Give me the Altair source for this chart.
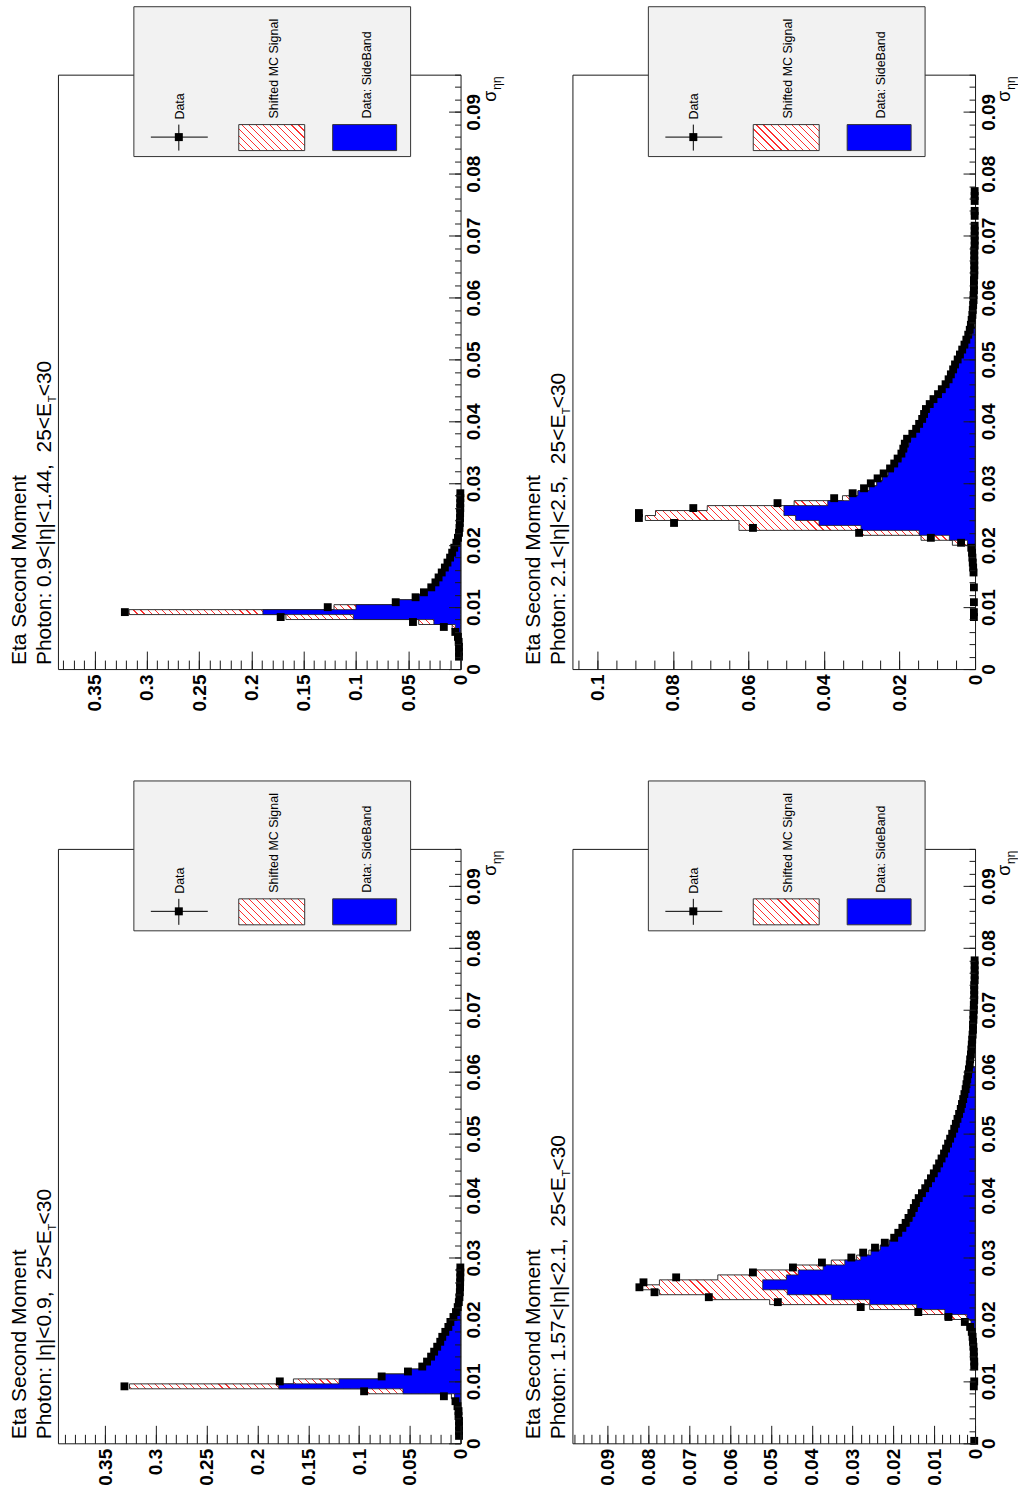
import math
import altair as alt
import pandas as pd

# ---------------------------------------------------------------- constants
BIN_WIDTH = 0.0008          # sigma_etaeta bin width
SIGMA_MAX = 0.096           # upper end of the sigma_etaeta axis
PANEL_W, PANEL_H = 403, 595
FONT = "Liberation Sans"
NB = "\u00a0"
EPS = 1e-9

SIGMA_MAJOR = [round(0.01 * i, 3) for i in range(10)]
SIGMA_MINOR = [round(0.002 * i, 4) for i in range(49)]

# ---------------------------------------------------------------- panel A : 0.9<|eta|<1.44
A_REGION = "Photon: 0.9<|η|<1.44," + NB + " 25<E"
A_VMAX = 0.385
A_MAJOR = [0, 0.05, 0.1, 0.15, 0.2, 0.25, 0.3, 0.35]
A_MINOR_STEP, A_MINOR_N = 0.01, 39
A_DATA_FIRST = 2
A_DATA = [0.0015, 0.0015, 0.0015, 0.0018, 0.0025, 0.005, 0.016, 0.0455, 0.172, 0.321,
          0.127, 0.062, 0.043, 0.035, 0.028, 0.024, 0.021, 0.018, 0.015, 0.0125,
          0.010, 0.008, 0.006, 0.004, 0.0025, 0.0015, 0.001, 0.0007, 0.0005, 0.0004,
          0.0003, 0.0003, 0.0002, 0.0002]
A_SB_FIRST = 7
A_SIDEBAND = [0.004, 0.005, 0.0255, 0.1025, 0.189, 0.100, 0.060, 0.041, 0.033, 0.027,
              0.023, 0.020, 0.017, 0.014, 0.0115, 0.009, 0.007, 0.005, 0.0035, 0.002, 0.001]
A_SIGNAL = [0.001, 0.003, 0.0145, 0.0645, 0.128, 0.021, 0.0025, 0.001]
A_SUB_Y = 328

# ---------------------------------------------------------------- panel B : 2.1<|eta|<2.5
B_REGION = "Photon: 2.1<|η|<2.5," + NB + " 25<E"
B_VMAX = 0.1066
B_MAJOR = [0, 0.02, 0.04, 0.06, 0.08, 0.1]
B_MINOR_STEP, B_MINOR_N = 0.005, 22
B_DATA_FIRST = 10
B_DATA = [0.0003, 0.0003, None, 0.0003, None, None, 0.0003, None, None, 0.0004,
          0.0005, 0.0006, 0.0007, 0.0008, 0.001, 0.0037, 0.0117, 0.0307, 0.0588, 0.0797,
          0.089, 0.089, 0.0746, 0.0523, 0.0373, 0.0324, 0.0294, 0.0276, 0.0258, 0.0242,
          0.0225, 0.0214, 0.0205, 0.0195, 0.019, 0.0186, 0.018, 0.0166, 0.0156, 0.0148,
          0.014, 0.0135, 0.013, 0.012, 0.011, 0.0098, 0.0088, 0.0078, 0.007, 0.0064,
          0.0058, 0.0053, 0.0046, 0.004, 0.0034, 0.0028, 0.0023, 0.0018, 0.0014, 0.0011,
          0.0009, 0.0007, 0.0006, 0.0005, 0.0004, 0.0004, 0.0003, 0.0003, 0.0003, 0.0002,
          0.0002, 0.0002, 0.0002, 0.0002, 0.0002, 0.0001, 0.0001, 0.0001, 0.0001, 0.0001,
          None, 0.0001, 0.0001, None, 0.0001, 0.0001, 0.0001]
B_SB_FIRST = 24
B_SIDEBAND = [0.0005, 0.002, 0.0068, 0.0148, 0.0302, 0.0413, 0.0475, 0.0506, 0.0506, 0.039,
              0.0333, 0.031, 0.028, 0.026, 0.0245, 0.023, 0.0215, 0.0205, 0.0195, 0.0187,
              0.018, 0.0175, 0.017, 0.016, 0.015, 0.014, 0.0133, 0.0127, 0.012, 0.0112,
              0.0103, 0.0093, 0.0083, 0.0074, 0.0066, 0.006, 0.0054, 0.0048, 0.0042, 0.0036,
              0.003, 0.0024, 0.0019, 0.0015, 0.001]
B_SIGNAL = [0.0003, 0.004, 0.0075, 0.0154, 0.0323, 0.0212, 0.0398, 0.034, 0.0203, 0.0089, 0.0018]
B_SUB_Y = 340

# ---------------------------------------------------------------- panel C : |eta|<0.9
C_REGION = "Photon: |η|<0.9," + NB + " 25<E"
C_VMAX = 0.3965
C_MAJOR = [0, 0.05, 0.1, 0.15, 0.2, 0.25, 0.3, 0.35]
C_MINOR_STEP, C_MINOR_N = 0.01, 40
C_DATA_FIRST = 1
C_DATA = [0.0015, 0.0015, 0.0015, 0.0015, 0.002, 0.002, 0.003, 0.005, 0.0164, 0.095,
          0.331, 0.178, 0.0777, 0.0518, 0.0377, 0.033, 0.029, 0.026, 0.023, 0.020,
          0.018, 0.015, 0.012, 0.010, 0.007, 0.0045, 0.0028, 0.0017, 0.0011, 0.0007,
          0.0005, 0.0004, 0.0003, 0.0002, 0.0002]
C_SB_FIRST = 7
C_SIDEBAND = [0.002, 0.003, 0.006, 0.0567, 0.179, 0.1196, 0.076, 0.050, 0.036, 0.031,
              0.027, 0.024, 0.021, 0.018, 0.016, 0.013, 0.011, 0.008, 0.005, 0.003, 0.0015]
C_SIGNAL = [0.001, 0.002, 0.003, 0.035, 0.147, 0.045, 0.002, 0.001]
C_SUB_Y = 382

# ---------------------------------------------------------------- panel D : 1.57<|eta|<2.1
D_REGION = "Photon: 1.57<|η|<2.1," + NB + " 25<E"
D_VMAX = 0.0986
D_MAJOR = [0, 0.01, 0.02, 0.03, 0.04, 0.05, 0.06, 0.07, 0.08, 0.09]
D_MINOR_STEP, D_MINOR_N = 0.002, 50
D_DATA_FIRST = 0
D_DATA = [0.0002, None, None, None, None, None, None, None, None, None,
          None, 0.0003, 0.0002, None, None, 0.0002, 0.0002, 0.0003, 0.0003, 0.0004,
          0.0005, 0.0006, 0.0008, 0.0012, 0.0025, 0.0065, 0.0139, 0.028, 0.0483, 0.0652,
          0.0785, 0.0822, 0.0812, 0.0732, 0.0544, 0.0446, 0.0375, 0.0303, 0.0274, 0.0245,
          0.0221, 0.0198, 0.0188, 0.0178, 0.017, 0.0163, 0.0156, 0.015, 0.0145, 0.0138,
          0.013, 0.0122, 0.0115, 0.0108, 0.0101, 0.0094, 0.0088, 0.0082, 0.0076, 0.0071,
          0.0066, 0.0061, 0.0056, 0.0051, 0.0047, 0.0043, 0.0039, 0.0035, 0.0032, 0.0029,
          0.0026, 0.0023, 0.0021, 0.0019, 0.0017, 0.0015, 0.0013, 0.0012, 0.001, 0.0009,
          0.0008, 0.0007, 0.0006, 0.0005, 0.0005, 0.0004, 0.0004, 0.0003, 0.0003, 0.0002,
          0.0002, 0.0002, 0.0002, 0.0001, 0.0001, 0.0001, 0.0001, 0.0001]
D_SB_FIRST = 23
D_SIDEBAND = [0.0005, 0.001, 0.002, 0.0074, 0.0143, 0.0258, 0.0352, 0.046, 0.052, 0.052,
              0.0462, 0.0433, 0.0372, 0.0319, 0.028, 0.0255, 0.0232, 0.021, 0.019, 0.018,
              0.017, 0.016, 0.0153, 0.0147, 0.0141, 0.0136, 0.013, 0.0122, 0.0115, 0.0108,
              0.0101, 0.0094, 0.0088, 0.0082, 0.0076, 0.0071, 0.0066, 0.0061, 0.0056, 0.0051,
              0.0047, 0.0043, 0.0039, 0.0035, 0.0031, 0.0028, 0.0025, 0.0022, 0.0019, 0.0016,
              0.0013, 0.001, 0.0007]
D_SIGNAL = [0.0005, 0.002, 0.0054, 0.0069, 0.0115, 0.0245, 0.0302, 0.0313, 0.0302, 0.0253,
            0.0168, 0.0107, 0.0078, 0.0033, 0.001, 0.0005]
D_SUB_Y = 328

PANELS = [
    dict(region=A_REGION, vmax=A_VMAX, major=A_MAJOR, mstep=A_MINOR_STEP, mn=A_MINOR_N,
         dfirst=A_DATA_FIRST, data=A_DATA, sbfirst=A_SB_FIRST, sb=A_SIDEBAND, sig=A_SIGNAL,
         suby=A_SUB_Y, anchor=True),
    dict(region=B_REGION, vmax=B_VMAX, major=B_MAJOR, mstep=B_MINOR_STEP, mn=B_MINOR_N,
         dfirst=B_DATA_FIRST, data=B_DATA, sbfirst=B_SB_FIRST, sb=B_SIDEBAND, sig=B_SIGNAL,
         suby=B_SUB_Y, anchor=False),
    dict(region=C_REGION, vmax=C_VMAX, major=C_MAJOR, mstep=C_MINOR_STEP, mn=C_MINOR_N,
         dfirst=C_DATA_FIRST, data=C_DATA, sbfirst=C_SB_FIRST, sb=C_SIDEBAND, sig=C_SIGNAL,
         suby=C_SUB_Y, anchor=False),
    dict(region=D_REGION, vmax=D_VMAX, major=D_MAJOR, mstep=D_MINOR_STEP, mn=D_MINOR_N,
         dfirst=D_DATA_FIRST, data=D_DATA, sbfirst=D_SB_FIRST, sb=D_SIDEBAND, sig=D_SIGNAL,
         suby=D_SUB_Y, anchor=False),
]

ONE = pd.DataFrame({"a": [0]})
HATCH_RED = "#ff3030"


def steps(first_bin, values):
    """histogram outline: each bin contributes its two edges (strictly increasing)"""
    s, v = [], []
    for j, val in enumerate(values):
        k = first_bin + j
        s += [k * BIN_WIDTH + EPS, (k + 1) * BIN_WIDTH - EPS]
        v += [val, val]
    return pd.DataFrame({"s": s, "v": v})


def points(first_bin, values):
    rows = [(round((first_bin + j + 0.5) * BIN_WIDTH, 6), val)
            for j, val in enumerate(values) if val is not None]
    return pd.DataFrame(rows, columns=["s", "v"])


def hatch(w, h, spacing=5.0, lw=0.8):
    """diagonal red hatching expressed as a hard-stop linear gradient"""
    L = (w + h) / math.sqrt(2)
    sc = (w + h) / (w * w + h * h)
    stops = []
    n = int(L / spacing) + 1
    for i in range(n):
        o1 = i * spacing / L
        o2 = min(1.0, (i * spacing + lw) / L)
        if o1 > 1:
            break
        stops += [{"offset": o1, "color": "white"}, {"offset": o1, "color": HATCH_RED},
                  {"offset": o2, "color": HATCH_RED}, {"offset": o2, "color": "white"}]
    return {"gradient": "linear", "x1": 0, "y1": 1, "x2": sc * w, "y2": 1 - sc * h, "stops": stops}


def txt(text, x, y, size, **kw):
    return alt.Chart(ONE).mark_text(text=text, angle=270, align="left", baseline="alphabetic",
                                    font=FONT, fontSize=size, color="black", **kw).encode(
        x=alt.value(x), y=alt.value(y))


def panel(p):
    vmax = p["vmax"]
    xs = alt.Scale(domain=[0, vmax], reverse=True, nice=False, zero=False)
    ys = alt.Scale(domain=[0, SIGMA_MAX], nice=False, zero=False)
    minor = [round(p["mstep"] * i, 4) for i in range(p["mn"])]

    ax_v_lab = alt.Axis(orient="bottom", values=p["major"], format="~g", labelAngle=270,
                        labelAlign="right", labelBaseline="middle", labelPadding=5,
                        ticks=False, tickSize=0, domain=False, grid=False, title=None,
                        labelFlush=False, labelOverlap=False)
    ax_v_maj = alt.Axis(orient="top", offset=-PANEL_H, values=p["major"], labels=False,
                        tickSize=18, domain=False, grid=False, title=None, zindex=1)
    ax_v_min = alt.Axis(orient="top", offset=-PANEL_H, values=minor, labels=False,
                        tickSize=9, domain=False, grid=False, title=None, zindex=1)
    ax_s_lab = alt.Axis(orient="right", values=SIGMA_MAJOR, format="~g", labelAngle=270,
                        labelAlign="center", labelBaseline="top", labelPadding=4,
                        ticks=False, tickSize=0, domain=False, grid=False, title=None,
                        labelFlush=False, labelOverlap=False)
    ax_s_maj = alt.Axis(orient="left", offset=-PANEL_W, values=SIGMA_MAJOR, labels=False,
                        tickSize=12, domain=False, grid=False, title=None, zindex=1)
    ax_s_min = alt.Axis(orient="left", offset=-PANEL_W, values=SIGMA_MINOR, labels=False,
                        tickSize=6, domain=False, grid=False, title=None, zindex=1)

    sb, sig = p["sb"], p["sig"]
    total = [b + (sig[j] if j < len(sig) else 0.0) for j, b in enumerate(sb)]  # MC signal stacked on sideband
    red_df = steps(p["sbfirst"], total)
    blue_df = steps(p["sbfirst"], sb)
    w = max(total) / vmax * PANEL_W
    h = len(total) * BIN_WIDTH / SIGMA_MAX * PANEL_H

    red = alt.Chart(red_df).mark_area(orient="horizontal", fill=hatch(w, h), stroke="#333333",
                                      strokeWidth=1, opacity=1).encode(
        y=alt.Y("s:Q", scale=ys, axis=ax_s_lab),
        x=alt.X("v:Q", scale=xs, axis=ax_v_lab, stack=None),
        x2=alt.datum(0))
    blue = alt.Chart(blue_df).mark_area(orient="horizontal", fill="#0000ff", stroke="#222222",
                                        strokeWidth=0.8, opacity=1).encode(
        y=alt.Y("s:Q", scale=ys, axis=ax_s_maj),
        x=alt.X("v:Q", scale=xs, axis=ax_v_maj, stack=None),
        x2=alt.datum(0))
    pts = alt.Chart(points(p["dfirst"], p["data"])).mark_point(
        shape="square", filled=True, size=62, color="black", opacity=1).encode(
        y=alt.Y("s:Q", scale=ys, axis=ax_s_min),
        x=alt.X("v:Q", scale=xs, axis=ax_v_min))

    layers = [red, blue, pts]

    # legend (rotated TLegend)
    layers.append(alt.Chart(ONE).mark_rect(fill="#f2f2f2", stroke="#333333", strokeWidth=1).encode(
        x=alt.value(76), x2=alt.value(353), y=alt.value(-68), y2=alt.value(82)))
    layers.append(alt.Chart(ONE).mark_rule(color="black", strokeWidth=1).encode(
        x=alt.value(93), x2=alt.value(150), y=alt.value(62.5)))
    layers.append(alt.Chart(ONE).mark_rule(color="black", strokeWidth=1).encode(
        x=alt.value(121), y=alt.value(50), y2=alt.value(76)))
    layers.append(alt.Chart(ONE).mark_point(shape="square", filled=True, size=64, color="black",
                                            opacity=1).encode(x=alt.value(121), y=alt.value(62.5)))
    layers.append(alt.Chart(ONE).mark_rect(fill=hatch(66, 26, spacing=5.0), stroke="#333333",
                                           strokeWidth=1).encode(
        x=alt.value(181), x2=alt.value(247), y=alt.value(50), y2=alt.value(76)))
    layers.append(alt.Chart(ONE).mark_rect(fill="#0000ff", stroke="#333333", strokeWidth=1).encode(
        x=alt.value(275), x2=alt.value(339), y=alt.value(50), y2=alt.value(76)))
    layers.append(txt("Data", 126, 45, 12.5))
    layers.append(txt("Shifted MC Signal", 220, 44, 12.5))
    layers.append(txt("Data: SideBand", 313, 44, 12.5))

    # histogram title (rotated)
    layers.append(txt("Eta Second Moment", -32, PANEL_H - 4, 21))
    layers.append(txt(p["region"], -7, PANEL_H - 4, 21))
    layers.append(txt("T", -2, p["suby"], 11))
    layers.append(txt("<30", -7, p["suby"] - 6, 21))

    # x-axis title sigma_etaeta
    layers.append(txt("σ", PANEL_W + 35, 27, 18))
    layers.append(txt("ηη", PANEL_W + 40, 15, 12))

    if p["anchor"]:
        layers.append(alt.Chart(ONE).mark_rect(opacity=0).encode(
            x=alt.value(-57), x2=alt.value(-56), y=alt.value(-73), y2=alt.value(-72)))

    return alt.layer(*layers).resolve_scale(x="shared", y="shared").resolve_axis(
        x="independent", y="independent").properties(width=PANEL_W, height=PANEL_H)


chart = alt.concat(*[panel(p) for p in PANELS], columns=2,
                   spacing={"row": 180, "column": 112}, bounds="flush").properties(
    padding=0, background="white").configure_view(
    stroke="#1a1a1a", strokeWidth=1).configure_axis(
    labelFont=FONT, labelFontWeight="bold", labelFontSize=19, labelColor="black",
    tickColor="#1a1a1a", tickWidth=1, domain=False, grid=False)

chart.save("out.html", embed_options={"renderer": "svg", "actions": False})
